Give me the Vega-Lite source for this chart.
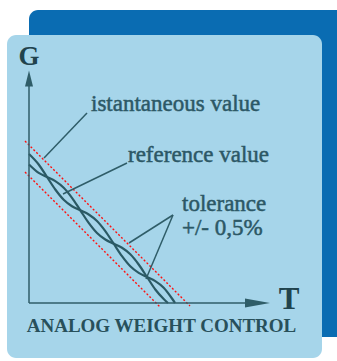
{
  "$schema": "https://vega.github.io/schema/vega-lite/v6.json",
  "width": 337,
  "height": 361,
  "autosize": "none",
  "padding": 0,
  "background": "#ffffff",
  "config": {"view": {"stroke": null}},
  "datasets": {
    "cards": [
      {"card": "back", "T": 0, "T2": 330, "G": 293, "G2": -34},
      {"card": "front", "T": -22, "T2": 293, "G": 268, "G2": -55}
    ],
    "tolerance": [
      {"id": "upper", "T": -4, "G": 162},
      {"id": "upper", "T": 161, "G": -3},
      {"id": "lower", "T": -4, "G": 131},
      {"id": "lower", "T": 131, "G": -4}
    ],
    "strokes": [
      {"id": "yaxis", "T": 0, "G": 0},
      {"id": "yaxis", "T": 0, "G": 222},
      {"id": "xaxis", "T": 0, "G": 0},
      {"id": "xaxis", "T": 226, "G": 0},
      {"id": "l1", "T": 58, "G": 190},
      {"id": "l1", "T": 15, "G": 145},
      {"id": "l2", "T": 98, "G": 140},
      {"id": "l2", "T": 34, "G": 109},
      {"id": "l3", "T": 144, "G": 88},
      {"id": "l3", "T": 100, "G": 60},
      {"id": "l4", "T": 144, "G": 88},
      {"id": "l4", "T": 117, "G": 24}
    ],
    "curves": [
      {"curve": "instantaneous", "T": 0, "G": 149},
      {"curve": "instantaneous", "T": 9.7, "G": 138.5},
      {"curve": "instantaneous", "T": 18, "G": 126},
      {"curve": "instantaneous", "T": 26.3, "G": 113.5},
      {"curve": "instantaneous", "T": 34.7, "G": 103.3},
      {"curve": "instantaneous", "T": 43, "G": 96.8},
      {"curve": "instantaneous", "T": 51.3, "G": 92.7},
      {"curve": "instantaneous", "T": 59.7, "G": 88.5},
      {"curve": "instantaneous", "T": 68, "G": 82},
      {"curve": "instantaneous", "T": 76.3, "G": 71.9},
      {"curve": "instantaneous", "T": 84.7, "G": 59.3},
      {"curve": "instantaneous", "T": 93, "G": 46.8},
      {"curve": "instantaneous", "T": 101.3, "G": 36.7},
      {"curve": "instantaneous", "T": 109.7, "G": 30.1},
      {"curve": "instantaneous", "T": 118, "G": 26},
      {"curve": "instantaneous", "T": 126.3, "G": 21.9},
      {"curve": "instantaneous", "T": 134.7, "G": 15.3},
      {"curve": "instantaneous", "T": 143, "G": 4.5},
      {"curve": "instantaneous", "T": 146, "G": 0},
      {"curve": "reference", "T": 0, "G": 138.5},
      {"curve": "reference", "T": 9.7, "G": 130.1},
      {"curve": "reference", "T": 18, "G": 126},
      {"curve": "reference", "T": 26.3, "G": 121.9},
      {"curve": "reference", "T": 34.7, "G": 115.3},
      {"curve": "reference", "T": 43, "G": 105.2},
      {"curve": "reference", "T": 51.3, "G": 92.7},
      {"curve": "reference", "T": 59.7, "G": 80.1},
      {"curve": "reference", "T": 68, "G": 70},
      {"curve": "reference", "T": 76.3, "G": 63.5},
      {"curve": "reference", "T": 84.7, "G": 59.3},
      {"curve": "reference", "T": 93, "G": 55.2},
      {"curve": "reference", "T": 101.3, "G": 48.7},
      {"curve": "reference", "T": 109.7, "G": 38.5},
      {"curve": "reference", "T": 118, "G": 26},
      {"curve": "reference", "T": 126.3, "G": 13.5},
      {"curve": "reference", "T": 134.7, "G": 4},
      {"curve": "reference", "T": 139, "G": 0}
    ],
    "arrowUp": [{"T": 0, "G": 224.5}],
    "arrowRight": [{"T": 228.5, "G": 0}],
    "labels": [
      {"text": "istantaneous value", "T": 62, "G": 192},
      {"text": "reference value", "T": 99, "G": 141},
      {"text": "tolerance", "T": 153, "G": 92},
      {"text": "+/- 0,5%", "T": 153, "G": 68}
    ],
    "axisG": [{"text": "G", "T": 0, "G": 238}],
    "axisT": [{"text": "T", "T": 260, "G": -6}],
    "title": [{"text": "ANALOG WEIGHT CONTROL", "T": 132.5, "G": -29}]
  },
  "encoding": {
    "x": {"field": "T", "type": "quantitative", "scale": {"domain": [-29, 308], "nice": false, "zero": false}, "axis": null},
    "y": {"field": "G", "type": "quantitative", "scale": {"domain": [-58, 303], "nice": false, "zero": false}, "axis": null}
  },
  "layer": [
    {
      "data": {"name": "cards"},
      "mark": {"type": "rect", "cornerRadius": 9},
      "encoding": {
        "x2": {"field": "T2"},
        "y2": {"field": "G2"},
        "color": {"field": "card", "type": "nominal", "scale": {"domain": ["back", "front"], "range": ["#0a6cb2", "#a6d5ea"]}, "legend": null}
      }
    },
    {
      "data": {"name": "curves"},
      "mark": {"type": "line", "interpolate": "monotone", "strokeWidth": 2.2, "color": "#2b5a65"},
      "encoding": {"detail": {"field": "curve"}}
    },
    {
      "data": {"name": "tolerance"},
      "mark": {"type": "line", "strokeDash": [2, 2], "strokeWidth": 1.4, "color": "#ff1010"},
      "encoding": {"detail": {"field": "id"}}
    },
    {
      "data": {"name": "strokes"},
      "mark": {"type": "line", "strokeWidth": 1.5, "color": "#2f5d68"},
      "encoding": {"detail": {"field": "id"}}
    },
    {
      "data": {"name": "arrowUp"},
      "mark": {"type": "point", "shape": "M0,-1L0.5,1L-0.5,1Z", "size": 256, "filled": true, "opacity": 1, "color": "#2f5d68"}
    },
    {
      "data": {"name": "arrowRight"},
      "mark": {"type": "point", "shape": "M1,0L-1,0.36L-1,-0.36Z", "size": 625, "filled": true, "opacity": 1, "color": "#2f5d68"}
    },
    {
      "data": {"name": "labels"},
      "mark": {"type": "text", "font": "Liberation Serif", "fontSize": 23, "align": "left", "baseline": "alphabetic", "color": "#2c5866", "stroke": "#2c5866", "strokeWidth": 0.5},
      "encoding": {"text": {"field": "text"}}
    },
    {
      "data": {"name": "axisG"},
      "mark": {"type": "text", "font": "Liberation Serif", "fontSize": 27, "fontWeight": "bold", "align": "center", "baseline": "alphabetic", "color": "#21434d"},
      "encoding": {"text": {"field": "text"}}
    },
    {
      "data": {"name": "axisT"},
      "mark": {"type": "text", "font": "Liberation Serif", "fontSize": 31, "fontWeight": "bold", "align": "center", "baseline": "alphabetic", "color": "#21434d"},
      "encoding": {"text": {"field": "text"}}
    },
    {
      "data": {"name": "title"},
      "mark": {"type": "text", "font": "Liberation Serif", "fontSize": 19, "fontWeight": "bold", "align": "center", "baseline": "alphabetic", "color": "#28505b"},
      "encoding": {"text": {"field": "text"}}
    }
  ]
}
